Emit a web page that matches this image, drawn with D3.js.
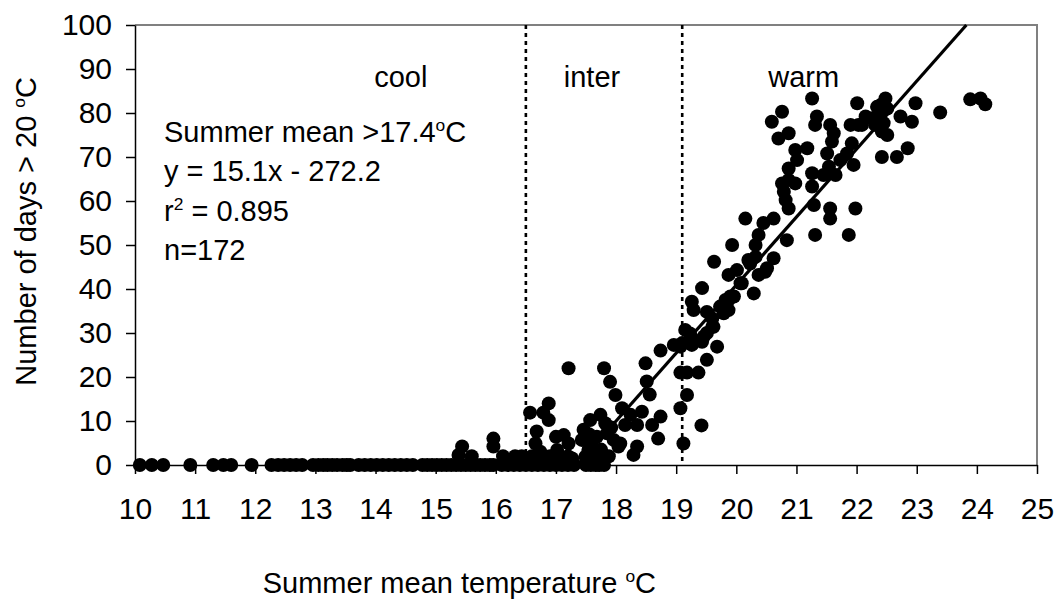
<!DOCTYPE html>
<html>
<head>
<meta charset="utf-8">
<script src="https://cdn.jsdelivr.net/npm/d3@7"></script>
<style>
  body { margin: 0; background: #fff; }
  svg text { font-family: "Liberation Sans", Arial, sans-serif; fill: #000; }
</style>
</head>
<body>
<svg id="chart" width="1058" height="601"></svg>
<script>
// ticks
var xTicks = [10, 11, 12, 13, 14, 15, 16, 17, 18, 19, 20, 21, 22, 23, 24, 25];
var yTicks = [0, 10, 20, 30, 40, 50, 60, 70, 80, 90, 100];

// zone boundaries (summer mean temperature) and names
var zoneBounds = [16.5, 19.1];
var zoneNames = ["cool", "inter", "warm"];

// fitted line as drawn on the chart
var fitSlope = 15.45, fitIntercept = -268.1;

// stations with zero days > 20 C
var zeroTemps = [10.08, 10.28, 10.47, 10.92, 11.3, 11.47, 11.6, 11.94, 12.27, 12.38, 12.48, 12.58,
  12.68, 12.78, 12.96, 13.05, 13.13, 13.2, 13.28, 13.36, 13.45, 13.52, 13.58, 13.72, 13.82, 13.92,
  14.02, 14.12, 14.22, 14.32, 14.42, 14.52, 14.62, 14.78, 14.86, 14.94, 15.02, 15.1, 15.18, 15.26,
  15.34, 15.42, 15.5, 15.58, 15.66, 15.74, 15.82, 15.9, 15.96, 16.1, 16.2, 16.3, 16.4, 16.5, 16.6,
  16.7, 16.8, 16.9, 17.0, 17.1, 17.2, 17.3, 17.5, 17.58, 17.66, 17.72, 17.8];

// [temperature, days]
var coolPoints = [[15.44, 4.2], [15.38, 2.3], [15.6, 2], [15.96, 6], [15.96, 4.2], [16.12, 2],
  [16.32, 2], [16.43, 2]];

var interPoints = [[16.57, 11.9], [16.79, 11.9], [16.88, 14], [16.88, 10.2], [16.68, 7.6],
  [16.66, 4.9], [16.74, 3], [16.6, 2], [16.77, 2.2], [16.9, 2], [17.0, 6.4], [17.13, 6.8],
  [17.21, 4.9], [17.02, 3.4], [17.2, 2], [17.05, 1.8], [17.27, 1.5], [17.21, 22],
  [17.46, 8], [17.57, 10.2], [17.74, 11.4], [17.43, 5.7], [17.6, 5.7], [17.54, 3.4], [17.49, 1.9],
  [17.68, 2.7], [17.74, 1.1], [17.62, 1.2], [17.68, 6.4], [17.85, 7.2], [17.96, 5.7], [18.04, 4.2],
  [17.75, 3.5], [17.88, 2], [17.92, 8.5], [17.55, 7], [17.82, 9.5], [17.8, 22], [17.9, 18.9],
  [17.99, 15.9], [18.1, 12.9], [18.15, 9.1], [18.35, 9.1], [18.24, 11.4], [18.43, 12.1],
  [18.07, 4.9], [18.35, 4.2], [18.29, 2.3], [18.74, 11], [18.6, 9.1], [18.7, 6], [18.49, 23.1],
  [18.51, 19], [18.56, 16], [18.74, 26], [18.96, 27.3], [19.07, 21], [19.07, 12.9], [19.07, 26.9]];

var warmPoints = [[19.1, 27.7], [19.26, 27.3], [19.18, 21], [19.37, 21], [19.18, 15.9], [19.12, 4.9],
  [19.42, 9], [19.15, 30.7], [19.29, 28.4], [19.46, 29.2], [19.62, 31.4], [19.79, 34.5],
  [19.87, 35.2], [19.87, 37.5], [19.96, 38.3], [20.07, 41.3], [20.23, 45.8], [20.48, 43.9],
  [19.23, 29.9], [19.43, 28], [19.51, 23.9], [19.68, 26.9], [19.51, 30], [19.6, 31.4],
  [19.26, 37.1], [19.29, 35.2], [19.43, 40.2], [19.51, 34.8], [19.6, 33.3], [19.73, 36],
  [19.82, 37.5], [19.9, 38.3], [19.63, 46.2], [19.87, 43.2], [20.01, 44.3], [20.09, 41.3],
  [20.29, 39], [20.2, 46.6], [20.32, 47.3], [20.37, 43.2], [20.51, 44.7], [20.62, 47],
  [19.93, 50], [20.37, 52.3], [20.32, 50], [20.45, 55], [20.84, 51.1], [20.15, 56], [20.62, 56],
  [21.31, 52.3], [21.87, 52.3], [21.56, 58.3], [21.56, 56], [21.98, 58.3], [21.29, 59.1],
  [20.87, 58.3], [20.82, 60.2], [20.79, 62.1], [20.76, 64], [20.87, 64.8], [20.98, 64],
  [20.87, 67.4], [21.01, 69.3], [20.98, 71.6], [21.18, 72], [21.26, 63.3], [21.26, 66.3],
  [21.45, 65.9], [21.54, 67.8], [21.51, 70.8], [21.59, 73.5], [21.62, 75.4], [21.56, 77.3],
  [21.34, 79.2], [21.31, 77.3], [21.65, 65.9], [21.73, 69.3], [21.84, 70.8], [21.92, 73.1],
  [21.95, 68.2], [21.9, 77.3], [22.03, 77.3], [22.15, 79.2], [22.26, 78.8], [22.01, 82.2],
  [21.26, 83.3], [20.59, 78], [20.76, 80.3], [20.7, 74.2], [20.87, 75.4], [22.42, 75.8],
  [22.51, 75], [22.4, 81.8], [22.48, 83.3], [22.34, 81.4], [22.42, 70], [22.67, 70], [22.85, 72],
  [22.09, 77.3], [22.31, 77.3], [22.45, 77.7], [22.73, 79.2], [22.92, 78], [22.98, 82.2],
  [23.39, 80.1], [23.89, 83.1], [24.06, 83.3], [24.14, 82], [22.42, 80.3], [22.51, 81]];

var svg = d3.select("#chart");
var x = d3.scaleLinear().domain([10, 25]).range([135, 1037]);
var y = d3.scaleLinear().domain([0, 100]).range([465, 25]);
var FS = 29, TICK_FS = 30;

// grey plot-area border (top + right)
svg.append("path")
  .attr("d", "M" + x(10) + "," + y(100) + "H" + x(25) + "V" + y(0))
  .attr("fill", "none").attr("stroke", "#808080").attr("stroke-width", 2);

var yAxis = svg.append("g")
  .attr("transform", "translate(" + x(10) + ",0)")
  .call(d3.axisLeft(y).tickValues(yTicks).tickSize(9).tickSizeOuter(0).tickPadding(14));
var xAxis = svg.append("g")
  .attr("transform", "translate(0," + y(0) + ")")
  .call(d3.axisBottom(x).tickValues(xTicks).tickSize(9).tickSizeOuter(0).tickPadding(24));
[xAxis, yAxis].forEach(function(g){
  g.attr("font-size", TICK_FS).attr("font-family", null);
  g.selectAll("path, line").attr("stroke", "#000").attr("stroke-width", 1.5);
});

// zone separators
svg.selectAll("line.zone").data(zoneBounds).enter().append("line")
  .attr("class", "zone")
  .attr("x1", function(d){ return x(d); }).attr("x2", function(d){ return x(d); })
  .attr("y1", y(100)).attr("y2", y(0))
  .attr("stroke", "#000").attr("stroke-width", 2.6).attr("stroke-dasharray", "4,4");

// zone names
var zoneLabelX = [14.42, 17.6, 21.12];
svg.selectAll("text.zone").data(zoneNames).enter().append("text")
  .attr("class", "zone")
  .attr("x", function(d, i){ return x(zoneLabelX[i]); })
  .attr("y", 87)
  .attr("text-anchor", "middle")
  .attr("font-size", FS)
  .text(function(d){ return d; });

// points
var points = zeroTemps.map(function(t){ return [t, 0]; })
  .concat(coolPoints, interPoints, warmPoints);
svg.append("g").selectAll("circle").data(points).enter().append("circle")
  .attr("cx", function(d){ return x(d[0]); })
  .attr("cy", function(d){ return y(d[1]); })
  .attr("r", 7)
  .attr("fill", "#000");

// regression line, from 0 to 100 days
var fitX0 = -fitIntercept / fitSlope, fitX1 = (100 - fitIntercept) / fitSlope;
svg.append("line")
  .attr("x1", x(fitX0)).attr("y1", y(0))
  .attr("x2", x(fitX1)).attr("y2", y(100))
  .attr("stroke", "#000").attr("stroke-width", 3.2);

// superscript followed by normal text (pixel offsets so the baseline comes back)
var SUP_SHIFT = 11;
function supThen(t, s, rest){
  t.append("tspan").attr("dy", -SUP_SHIFT).attr("font-size", FS * 0.6).text(s);
  t.append("tspan").attr("dy", SUP_SHIFT).text(rest);
}

// annotation block
var ann = svg.append("g").attr("font-size", FS);
var t1 = ann.append("text").attr("x", 164).attr("y", 142);
t1.append("tspan").text("Summer mean >17.4");
supThen(t1, "o", "C");
ann.append("text").attr("x", 164).attr("y", 181).text("y = 15.1x - 272.2");
var t3 = ann.append("text").attr("x", 164).attr("y", 221);
t3.append("tspan").text("r");
supThen(t3, "2", " = 0.895");
ann.append("text").attr("x", 164).attr("y", 260).text("n=172");

// axis titles
var xt = svg.append("text").attr("x", 656).attr("y", 593)
  .attr("text-anchor", "end").attr("font-size", FS);
xt.append("tspan").text("Summer mean temperature ");
supThen(xt, "o", "C");

var yt = svg.append("text").attr("transform", "translate(36,77) rotate(-90)")
  .attr("text-anchor", "end").attr("font-size", FS);
yt.append("tspan").text("Number of days > 20 ");
supThen(yt, "o", "C");
</script>
</body>
</html>
